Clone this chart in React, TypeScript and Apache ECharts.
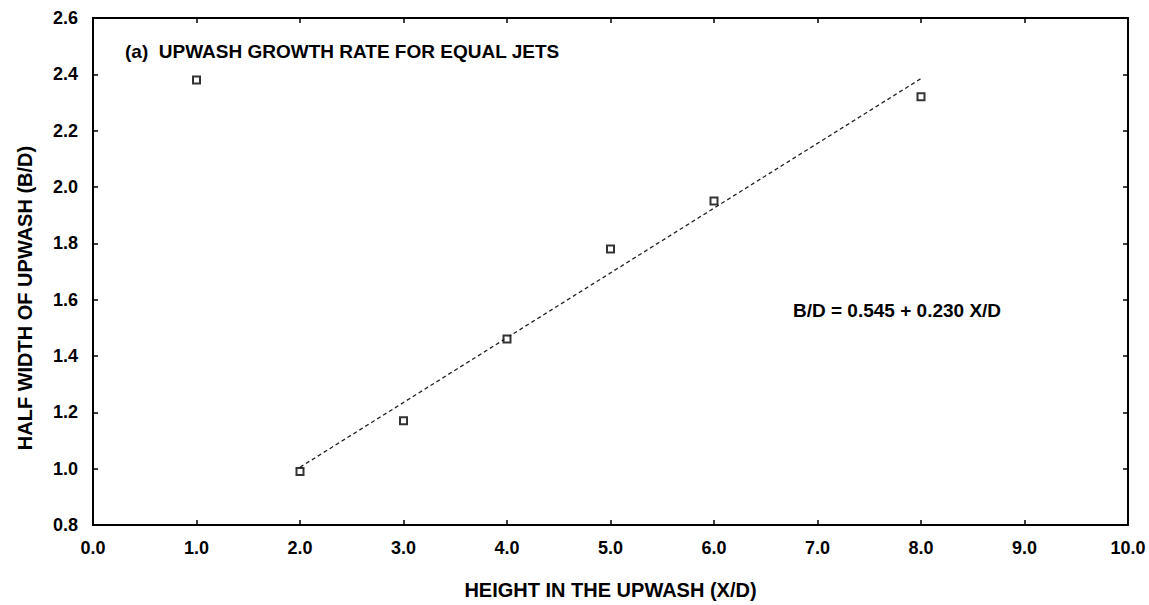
import React, { useEffect, useRef } from "react";
import * as echarts from "echarts";

const xTicks = [0, 1, 2, 3, 4, 5, 6, 7, 8, 9, 10];
const yTicks = [0.8, 1.0, 1.2, 1.4, 1.6, 1.8, 2.0, 2.2, 2.4, 2.6];
const pointX = [1, 2, 3, 4, 5, 6, 8];
const pointY = [2.38, 0.99, 1.17, 1.46, 1.78, 1.95, 2.32];
const fitX = [2, 8];
const fitIntercept = 0.545;
const fitSlope = 0.23;
const titleText = "(a)  UPWASH GROWTH RATE FOR EQUAL JETS";
const equationText = "B/D = 0.545 + 0.230 X/D";
const xName = "HEIGHT IN THE UPWASH (X/D)";
const yName = "HALF WIDTH OF UPWASH (B/D)";

const FONT = "'Liberation Sans', Arial, Helvetica, sans-serif";

export default function App() {
  const ref = useRef<HTMLDivElement>(null);
  useEffect(() => {
    document.body.style.margin = "0";
    const chart = echarts.init(ref.current!, null, { renderer: "svg" });
    const fitData = fitX.map((x) => [x, +(fitIntercept + fitSlope * x).toFixed(4)]);
    const axisCommon = {
      min: xTicks[0],
      max: xTicks[xTicks.length - 1],
      interval: 1,
    };
    const yCommon = {
      min: yTicks[0],
      max: yTicks[yTicks.length - 1],
      interval: 0.2,
    };
    const lineStyle = { color: "#000", width: 2 };
    const tickStyle = { show: true, inside: true, length: 5, lineStyle: { color: "#000", width: 1.5 } };
    chart.setOption({
      animation: false,
      backgroundColor: "#fff",
      textStyle: { fontFamily: FONT },
      grid: { left: 93, right: 21, top: 18, bottom: 76, containLabel: false },
      xAxis: [
        {
          type: "value",
          ...axisCommon,
          name: xName,
          nameLocation: "middle",
          nameGap: 55,
          nameTextStyle: { fontFamily: FONT, fontWeight: "bold", fontSize: 20, color: "#000" },
          axisLine: { show: true, onZero: false, lineStyle },
          axisTick: tickStyle,
          axisLabel: {
            show: true,
            margin: 14,
            fontFamily: FONT,
            fontWeight: "bold",
            fontSize: 18,
            color: "#000",
            formatter: (v: number) => v.toFixed(1),
          },
          splitLine: { show: false },
        },
        {
          type: "value",
          position: "top",
          ...axisCommon,
          axisLine: { show: true, onZero: false, lineStyle },
          axisTick: tickStyle,
          axisLabel: { show: false },
          splitLine: { show: false },
        },
      ],
      yAxis: [
        {
          type: "value",
          ...yCommon,
          axisLine: { show: true, onZero: false, lineStyle },
          axisTick: tickStyle,
          axisLabel: {
            show: true,
            margin: 15,
            fontFamily: FONT,
            fontWeight: "bold",
            fontSize: 18,
            color: "#000",
            formatter: (v: number) => v.toFixed(1),
          },
          splitLine: { show: false },
        },
        {
          type: "value",
          position: "right",
          ...yCommon,
          axisLine: { show: true, onZero: false, lineStyle },
          axisTick: tickStyle,
          axisLabel: { show: false },
          splitLine: { show: false },
        },
      ],
      series: [
        {
          type: "line",
          data: fitData,
          symbol: "none",
          lineStyle: { color: "#222", width: 1.3, type: [4, 3] },
          silent: true,
          z: 1,
        },
        {
          type: "scatter",
          data: pointX.map((x, i) => [x, pointY[i]]),
          symbol: "rect",
          symbolSize: 7,
          itemStyle: { color: "#fff", borderColor: "#000", borderWidth: 2 },
          z: 3,
        },
      ],
      graphic: [
        {
          type: "text",
          left: 125,
          top: 42,
          style: {
            text: titleText,
            fontFamily: FONT,
            fontWeight: "bold",
            fontSize: 19,
            fill: "#000",
          },
        },
        {
          type: "text",
          left: 793,
          top: 301,
          style: {
            text: equationText,
            fontFamily: FONT,
            fontWeight: "bold",
            fontSize: 19,
            fill: "#000",
          },
        },
        {
          type: "text",
          x: 25,
          y: 298,
          rotation: Math.PI / 2,
          style: {
            text: yName,
            fontFamily: FONT,
            fontWeight: "bold",
            fontSize: 20,
            fill: "#000",
            align: "center",
            verticalAlign: "middle",
          },
        },
      ],
    });
    return () => chart.dispose();
  }, []);
  return <div ref={ref} style={{ width: 1149, height: 605 }} />;
}
